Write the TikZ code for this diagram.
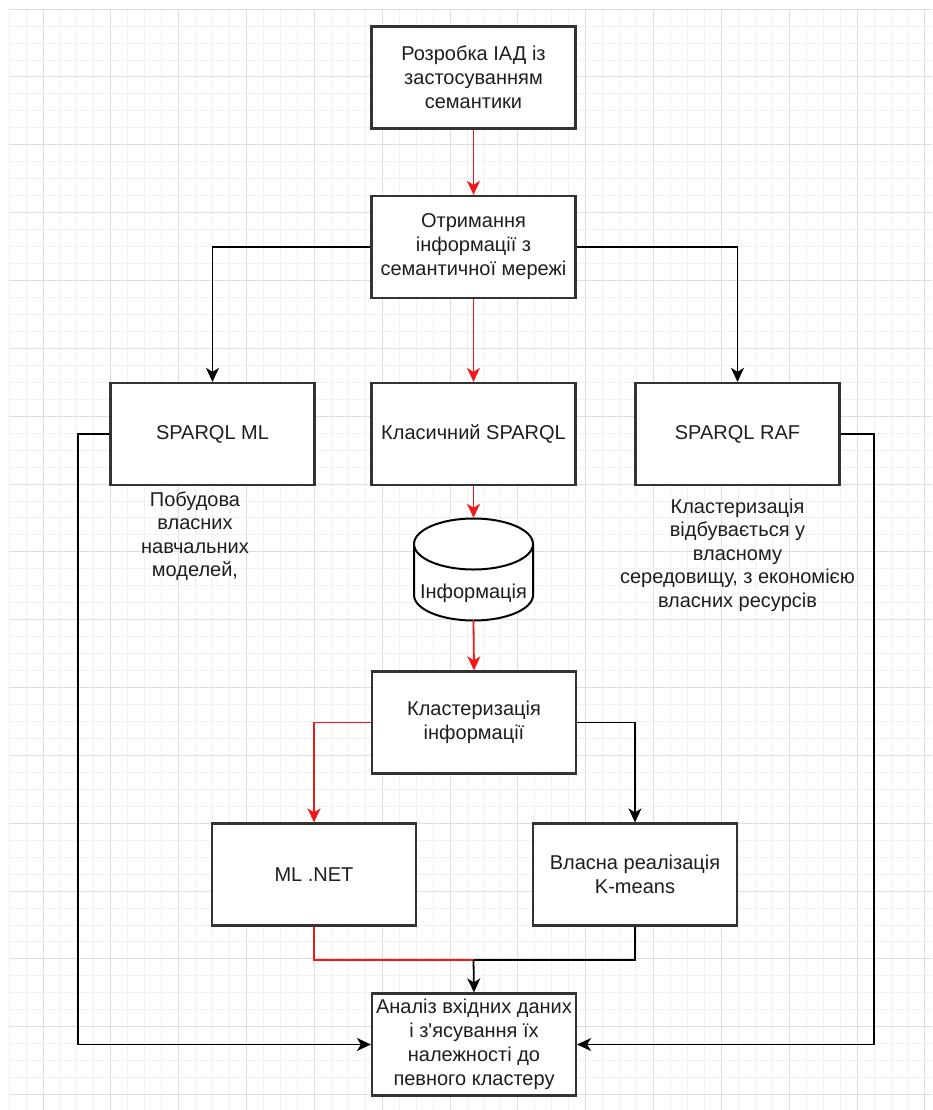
\documentclass[tikz,border=0pt]{standalone}
\usepackage{fontspec}
\setmainfont{Liberation Sans}
\usetikzlibrary{arrows.meta}
\definecolor{gridminor}{HTML}{F1F1F1}
\definecolor{gridmajor}{HTML}{DEDEDE}
\definecolor{linered}{HTML}{F01818}
\definecolor{txt}{HTML}{1E1E1E}
\definecolor{stroke}{HTML}{333333}
\begin{document}
\begin{tikzpicture}[x=1pt,y=-1pt,
  box/.style={draw=stroke, line width=2.2pt, fill=white, minimum width=204pt, minimum height=102pt, inner sep=0pt, align=center, text=txt, font=\fontsize{20}{24}\selectfont},
  note/.style={align=center, text=txt, font=\fontsize{20}{23.5}\selectfont, inner sep=0pt},
  conn/.style={line width=1.8pt, draw=black},
  redconn/.style={line width=1.8pt, draw=linered},
  tip/.style={-{Stealth[length=14pt,width=13pt,inset=4pt]}},
]
\useasboundingbox (0,0) rectangle (932,1110);
\fill[white] (0,0) rectangle (932,1110);
% grid
\foreach \i in {0,...,54}{
  \pgfmathsetmacro\gx{9.08+\i*16.96}
  \pgfmathtruncatemacro\m{mod(\i,4)}
  \ifnum\m=2
    \draw[gridmajor, line width=1pt] (\gx,9.16) -- (\gx,1110);
  \else
    \draw[gridminor, line width=1pt] (\gx,9.16) -- (\gx,1110);
  \fi
}
\foreach \j in {0,...,64}{
  \pgfmathsetmacro\gy{9.16+\j*16.96}
  \pgfmathtruncatemacro\m{mod(\j,4)}
  \ifnum\m=0
    \draw[gridmajor, line width=1pt] (9.08,\gy) -- (932,\gy);
  \else
    \draw[gridminor, line width=1pt] (9.08,\gy) -- (932,\gy);
  \fi
}
% boxes
\node[box] (top) at (473.5,77.5) {Розробка ІАД із\\застосуванням\\семантики};
\node[box] (get) at (473.5,247) {Отримання\\інформації з\\семантичної мережі};
\node[box] (ml) at (212.5,434) {SPARQL ML};
\node[box] (cls) at (473.5,434) {Класичний SPARQL};
\node[box] (raf) at (737.5,434) {SPARQL RAF};
\node[box] (clu) at (474,722.5) {Кластеризація\\інформації};
\node[box] (mlnet) at (314,874.5) {ML .NET};
\node[box] (kmeans) at (635,874.5) {Власна реалізація\\K-means};
\node[box] (ana) at (474,1044.5) {Аналіз вхідних даних\\і з\textquotesingle ясування їх\\належності до\\певного кластеру};
% notes
\node[note] (mlnote) at (195,536) {Побудова\\власних\\навчальних\\моделей,};
\node[note] (rafnote) at (737.5,555) {Кластеризація\\відбувається у\\власному\\середовищу, з економією\\власних ресурсів};
% cylinder
\node[minimum width=119pt, minimum height=102pt, inner sep=0pt] (cyl) at (473.5,569) {};
\fill[white] (414,544) -- (414,595) arc[start angle=180,end angle=360,x radius=59.5pt,y radius=25.5pt] -- (533,544) -- cycle;
\draw[stroke, line width=2pt] (414,544) -- (414,595) arc[start angle=180,end angle=360,x radius=59.5pt,y radius=25.5pt] -- (533,544);
\draw[stroke, line width=2pt, fill=white] (473.5,544) ellipse[x radius=59.5pt, y radius=25.5pt];
\node[note] (cyltext) at (473.5,593) {Інформація};
% connectors
\coordinate (merge) at (473.5,960);
\coordinate (lx) at (78,0);
\coordinate (rx) at (874,0);
\draw[redconn,tip] (top.south) -- (get.north);
\draw[conn,tip] (get.west) -| (ml.north);
\draw[conn,tip] (get.east) -| (raf.north);
\draw[redconn,tip] (get.south) -- (cls.north);
\draw[redconn,tip] (cls.south) -- (cyl.north);
\draw[redconn,tip] (cyl.south) -- (clu.north);
\draw[redconn,tip] (clu.west) -| (mlnet.north);
\draw[conn,tip] (clu.east) -| (kmeans.north);
\draw[redconn] (mlnet.south) |- (merge);
\draw[conn] (kmeans.south) |- (merge);
\draw[conn,tip] (merge) -- (ana.north);
\draw[conn,tip] (ml.west) -- (ml.west -| lx) |- (ana.west);
\draw[conn,tip] (raf.east) -- (raf.east -| rx) |- (ana.east);
\end{tikzpicture}
\end{document}
